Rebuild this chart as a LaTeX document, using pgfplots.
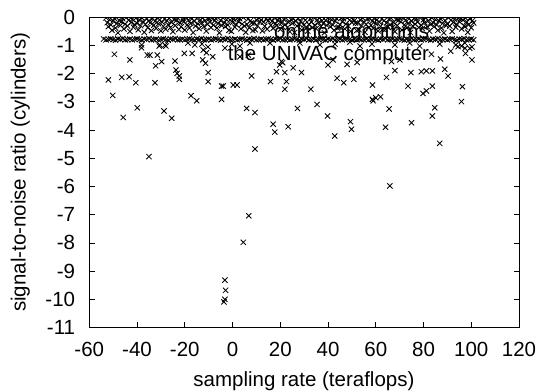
\documentclass[border=0pt]{standalone}
\usepackage{pgfplots}
\pgfplotsset{compat=1.18}
\usepackage{fontspec}
\setmainfont{Liberation Sans}
\begin{document}
\begin{tikzpicture}[font=\fontsize{20.5bp}{24bp}\selectfont]
\begin{axis}[
  at={(0,0)}, anchor=south west,
  scale only axis, width=429.7bp, height=310.2bp,
  xmin=-60, xmax=120, ymin=-11, ymax=0,
  xtick={-60,-40,...,120},
  xticklabels={-60,-40,-20,0,20,40,60,80,100,120},
  ytick={-11,-10,...,0},
  yticklabels={-11,-10,-9,-8,-7,-6,-5,-4,-3,-2,-1,0},
  tick align=inside, major tick length=5.5bp,
  xticklabel style={anchor=base, inner sep=0pt, yshift=-29.2bp},
  yticklabel style={anchor=east, inner sep=0pt, xshift=-14bp},
  axis line style={line width=0.8bp},
  every tick/.style={line width=0.8bp, black},
  clip marker paths=true,
  legend style={draw=none, fill=none, inner sep=0pt, outer sep=0pt,
    at={(rel axis cs:0.935,1)}, anchor=north east, yshift=-6.7bp,
    row sep=2bp, column sep=10bp,
    nodes={inner sep=0pt, text height=15bp, text depth=4.5bp}},
  legend cell align=right, legend plot pos=right,
  legend image code/.code={\path[draw=none,fill=none] (0bp,0bp) rectangle (52bp,2bp); \draw plot coordinates {(26bp,7bp)};},
]
\addplot[black, only marks, mark=x, mark size=3.7bp, mark options={solid, line width=0.85bp}] coordinates {
(-53,-0.02)(-52.5,-0.19)(-52,-0.33)(-51.5,-0.08)(-51,-0.27)(-50.5,-0.46)(-50,-0.13)(-49.5,-0.04)(-49,-0.38)(-48.5,-0.22)(-48,-0.55)(-47.5,-0.11)(-47,-0.29)
(-46.5,-0.15)(-46,-0.05)(-45.5,-0.41)(-45,-0.24)(-44.5,-0.01)(-44,-0.31)(-43.5,-0.10)(-43,-0.50)(-42.5,-0.18)(-42,-0.07)(-41.5,-0.35)(-41,-0.26)(-40.5,-0.03)
(-40,-0.21)(-39.5,-0.44)(-39,-0.09)(-38.5,-0.30)(-38,-0.02)(-37.5,-0.16)(-37,-0.53)(-36.5,-0.25)(-36,-0.06)(-35.5,-0.37)(-35,-0.12)(-34.5,-0.20)(-34,-0.47)
(-33.5,-0.04)(-33,-0.28)(-32.5,-0.14)(-32,-0.39)(-31.5,-0.01)(-31,-0.23)(-30.5,-0.09)(-30,-0.48)(-29.5,-0.17)(-29,-0.32)(-28.5,-0.06)(-28,-0.42)(-27.5,-0.12)
(-27,-0.26)(-26.5,-0.03)(-26,-0.36)(-25.5,-0.18)(-25,-0.51)(-24.5,-0.08)(-24,-0.29)(-23.5,-0.11)(-23,-0.02)(-22.5,-0.43)(-22,-0.20)(-21.5,-0.34)(-21,-0.07)
(-20.5,-0.16)(-20,-0.45)(-19.5,-0.01)(-19,-0.27)(-18.5,-0.10)(-18,-0.38)(-17.5,-0.22)(-17,-0.05)(-16.5,-0.54)(-16,-0.14)(-15.5,-0.31)(-15,-0.03)(-14.5,-0.24)
(-14,-0.40)(-13.5,-0.09)(-13,-0.19)(-12.5,-0.02)(-12,-0.33)(-11.5,-0.12)(-11,-0.49)(-10.5,-0.25)(-10,-0.06)(-9.5,-0.17)(-9,-0.36)(-8.5,-0.01)(-8,-0.28)
(-7.5,-0.13)(-7,-0.04)(-6.5,-0.38)(-6,-0.22)(-5.5,-0.55)(-5,-0.11)(-4.5,-0.29)(-4,-0.02)(-3.5,-0.19)(-3,-0.33)(-2.5,-0.08)(-2,-0.27)(-1.5,-0.46)
(-1,-0.10)(-0.5,-0.50)(0,-0.18)(0.5,-0.07)(1,-0.35)(1.5,-0.26)(2,-0.03)(2.5,-0.15)(3,-0.05)(3.5,-0.41)(4,-0.24)(4.5,-0.01)(5,-0.31)
(5.5,-0.53)(6,-0.25)(6.5,-0.06)(7,-0.37)(7.5,-0.12)(8,-0.20)(8.5,-0.47)(9,-0.21)(9.5,-0.44)(10,-0.09)(10.5,-0.30)(11,-0.02)(11.5,-0.16)
(12,-0.09)(12.5,-0.48)(13,-0.17)(13.5,-0.32)(14,-0.06)(14.5,-0.42)(15,-0.12)(15.5,-0.04)(16,-0.28)(16.5,-0.14)(17,-0.39)(17.5,-0.01)(18,-0.23)
(18.5,-0.29)(19,-0.11)(19.5,-0.02)(20,-0.43)(20.5,-0.20)(21,-0.34)(21.5,-0.07)(22,-0.26)(22.5,-0.03)(23,-0.36)(23.5,-0.18)(24,-0.51)(24.5,-0.08)
(25,-0.22)(25.5,-0.05)(26,-0.54)(26.5,-0.14)(27,-0.31)(27.5,-0.03)(28,-0.24)(28.5,-0.16)(29,-0.45)(29.5,-0.01)(30,-0.27)(30.5,-0.10)(31,-0.38)
(31.5,-0.49)(32,-0.25)(32.5,-0.06)(33,-0.17)(33.5,-0.36)(34,-0.01)(34.5,-0.28)(35,-0.40)(35.5,-0.09)(36,-0.19)(36.5,-0.02)(37,-0.33)(37.5,-0.12)
(38,-0.22)(38.5,-0.55)(39,-0.11)(39.5,-0.29)(40,-0.02)(40.5,-0.19)(41,-0.33)(41.5,-0.08)(42,-0.27)(42.5,-0.46)(43,-0.13)(43.5,-0.04)(44,-0.38)
(44.5,-0.35)(45,-0.26)(45.5,-0.03)(46,-0.15)(46.5,-0.05)(47,-0.41)(47.5,-0.24)(48,-0.01)(48.5,-0.31)(49,-0.10)(49.5,-0.50)(50,-0.18)(50.5,-0.07)
(51,-0.12)(51.5,-0.20)(52,-0.47)(52.5,-0.21)(53,-0.44)(53.5,-0.09)(54,-0.30)(54.5,-0.02)(55,-0.16)(55.5,-0.53)(56,-0.25)(56.5,-0.06)(57,-0.37)
(57.5,-0.04)(58,-0.28)(58.5,-0.14)(59,-0.39)(59.5,-0.01)(60,-0.23)(60.5,-0.09)(61,-0.48)(61.5,-0.17)(62,-0.32)(62.5,-0.06)(63,-0.42)(63.5,-0.12)
(64,-0.43)(64.5,-0.20)(65,-0.34)(65.5,-0.07)(66,-0.26)(66.5,-0.03)(67,-0.36)(67.5,-0.18)(68,-0.51)(68.5,-0.08)(69,-0.29)(69.5,-0.11)(70,-0.02)
(70.5,-0.16)(71,-0.45)(71.5,-0.01)(72,-0.27)(72.5,-0.10)(73,-0.38)(73.5,-0.22)(74,-0.05)(74.5,-0.54)(75,-0.14)(75.5,-0.31)(76,-0.03)(76.5,-0.24)
(77,-0.06)(77.5,-0.17)(78,-0.36)(78.5,-0.01)(79,-0.28)(79.5,-0.40)(80,-0.09)(80.5,-0.19)(81,-0.02)(81.5,-0.33)(82,-0.12)(82.5,-0.49)(83,-0.25)
(83.5,-0.02)(84,-0.19)(84.5,-0.33)(85,-0.08)(85.5,-0.27)(86,-0.46)(86.5,-0.13)(87,-0.04)(87.5,-0.38)(88,-0.22)(88.5,-0.55)(89,-0.11)(89.5,-0.29)
(90,-0.24)(90.5,-0.01)(91,-0.31)(91.5,-0.10)(92,-0.50)(92.5,-0.18)(93,-0.07)(93.5,-0.35)(94,-0.26)(94.5,-0.03)(95,-0.15)(95.5,-0.05)(96,-0.41)
(96.5,-0.09)(97,-0.30)(97.5,-0.02)(98,-0.16)(98.5,-0.53)(99,-0.25)(99.5,-0.06)(100,-0.37)(100.5,-0.12)(101,-0.20)
(-38.1,-0.98)(-30.4,-0.98)(-28.3,-0.98)(-18.7,-0.91)(-15.8,-0.98)(-12.8,-0.95)(-10.3,-1.05)(-3.2,-1.09)(-0.3,-0.95)(3.1,-1.02)(7.3,-0.91)(15.7,-0.91)(28.2,-0.91)
(36.6,-0.98)(42.9,-0.95)(49.2,-0.88)(53.4,-1.02)(58.4,-0.95)(68.0,-0.98)(74.2,-0.91)(78.4,-1.02)(86.8,-0.95)(93.5,-0.98)(97.3,-0.91)(100.3,-1.05)
(-49.5,-1.31)(-43.0,-1.51)(-38.1,-1.08)(-35.7,-1.34)(-34.6,-1.34)(-31.5,-1.34)(-30.7,-1.02)(-27.9,-1.02)(-32.2,-1.72)(-29.7,-1.57)
(-24.1,-1.55)(-23.7,-1.87)(-23.2,-1.99)(-22.3,-2.08)(-22.3,-2.20)(-20.2,-1.28)(-16.9,-1.28)(-12.3,-1.16)(-10.9,-1.26)(-12.5,-1.51)
(-11.3,-1.63)(-10.2,-1.96)(-10.2,-2.28)(-8.3,-1.40)(-4.6,-2.44)(-3.9,-2.44)(-4.6,-2.91)(0.3,-2.40)(1.9,-2.40)(3.1,-1.40)
(6.6,-1.34)(8.0,-2.08)(5.9,-3.23)(9.4,-3.38)(-52.0,-2.22)(-50.2,-2.77)(-46.4,-2.13)(-43.3,-2.11)(-40.5,-2.32)(-39.9,-3.21)
(-32.5,-2.32)(-17.4,-2.78)(-15.0,-2.96)(-28.7,-3.32)(-25.5,-3.58)(-45.8,-3.55)(15.9,-2.28)(21.0,-1.61)(19.8,-1.69)(18.4,-1.93)
(21.9,-1.96)(22.6,-2.28)(21.9,-2.55)(25.4,-1.79)(27.2,-3.23)(-35.0,-4.94)(9.4,-4.67)(17.0,-3.79)(17.7,-4.07)(23.3,-3.88)
};
\addlegendentry{online algorithms}
\addplot[black, only marks, mark=x, mark size=3.7bp, mark options={solid, line width=0.85bp}] coordinates {
(-54,-0.77)(-53,-0.80)(-52,-0.78)(-51,-0.76)(-50,-0.79)(-49,-0.81)(-48,-0.77)(-47,-0.78)(-46,-0.75)(-45,-0.80)(-44,-0.79)
(-43,-0.77)(-42,-0.80)(-41,-0.78)(-40,-0.76)(-39,-0.79)(-38,-0.81)(-37,-0.77)(-36,-0.78)(-35,-0.75)(-34,-0.80)(-33,-0.79)
(-32,-0.77)(-31,-0.80)(-30,-0.78)(-29,-0.76)(-28,-0.79)(-27,-0.81)(-26,-0.77)(-25,-0.78)(-24,-0.75)(-23,-0.80)(-22,-0.79)
(-21,-0.77)(-20,-0.80)(-19,-0.78)(-18,-0.76)(-17,-0.79)(-16,-0.81)(-15,-0.77)(-14,-0.78)(-13,-0.75)(-12,-0.80)(-11,-0.79)
(-10,-0.77)(-9,-0.80)(-8,-0.78)(-7,-0.76)(-6,-0.79)(-5,-0.81)(-4,-0.77)(-3,-0.78)(-2,-0.75)(-1,-0.80)(0,-0.79)
(1,-0.77)(2,-0.80)(3,-0.78)(4,-0.76)(5,-0.79)(6,-0.81)(7,-0.77)(8,-0.78)(9,-0.75)(10,-0.80)(11,-0.79)
(12,-0.77)(13,-0.80)(14,-0.78)(15,-0.76)(16,-0.79)(17,-0.81)(18,-0.77)(19,-0.78)(20,-0.75)(21,-0.80)(22,-0.79)
(23,-0.77)(24,-0.80)(25,-0.78)(26,-0.76)(27,-0.79)(28,-0.81)(29,-0.77)(30,-0.78)(31,-0.75)(32,-0.80)(33,-0.79)
(34,-0.77)(35,-0.80)(36,-0.78)(37,-0.76)(38,-0.79)(39,-0.81)(40,-0.77)(41,-0.78)(42,-0.75)(43,-0.80)(44,-0.79)
(45,-0.77)(46,-0.80)(47,-0.78)(48,-0.76)(49,-0.79)(50,-0.81)(51,-0.77)(52,-0.78)(53,-0.75)(54,-0.80)(55,-0.79)
(56,-0.77)(57,-0.80)(58,-0.78)(59,-0.76)(60,-0.79)(61,-0.81)(62,-0.77)(63,-0.78)(64,-0.75)(65,-0.80)(66,-0.79)
(67,-0.77)(68,-0.80)(69,-0.78)(70,-0.76)(71,-0.79)(72,-0.81)(73,-0.77)(74,-0.78)(75,-0.75)(76,-0.80)(77,-0.79)
(78,-0.77)(79,-0.80)(80,-0.78)(81,-0.76)(82,-0.79)(83,-0.81)(84,-0.77)(85,-0.78)(86,-0.75)(87,-0.80)(88,-0.79)
(89,-0.77)(90,-0.80)(91,-0.78)(92,-0.76)(93,-0.79)(94,-0.81)(95,-0.77)(96,-0.78)(97,-0.75)(98,-0.80)(99,-0.79)
(100,-0.77)(101,-0.80)
(6.8,-7.04)(4.5,-7.98)(-3.2,-9.32)(-2.9,-9.68)(-3.2,-10.0)(-3.6,-10.09)(35.4,-3.09)(39.8,-3.50)(42.8,-4.21)(49.4,-3.70)
(49.8,-3.97)(58.9,-2.96)(65.6,-3.25)(64.1,-3.90)(75.0,-3.74)(84.7,-3.21)(83.7,-3.50)(86.8,-4.47)(95.9,-2.99)(65.9,-5.98)
(20.5,-1.57)(28.9,-1.96)(32.8,-2.55)(40.0,-1.69)(42.1,-1.51)(43.8,-2.16)(46.6,-2.32)(50.8,-2.20)(48.0,-1.67)(52.2,-1.60)
(58.6,-2.40)(58.6,-2.91)(60.0,-2.85)(62.0,-2.82)(64.5,-2.13)(68.0,-1.89)(66.6,-1.57)(70.1,-1.51)(73.5,-2.44)(74.7,-1.96)
(79.1,-1.93)(81.2,-1.90)(83.7,-1.90)(79.8,-2.70)(81.2,-2.61)(83.7,-2.44)(83.3,-1.31)(87.1,-1.48)(88.9,-1.84)(90.3,-2.08)
(91.4,-1.20)(94.5,-1.04)(95.9,-1.02)(96.3,-2.46)(97.6,-1.28)(99.4,-1.10)(100.3,-1.51)
};
\addlegendentry{the UNIVAC computer}
\end{axis}
\node[rotate=90, anchor=center] at (-69bp,155.1bp) {signal-to-noise ratio (cylinders)};
\node[anchor=base] at (214.6bp,-59.2bp) {sampling rate (teraflops)};
\pgfresetboundingbox
\path (-89.3bp,-64.5bp) rectangle (450.7bp,327.5bp);
\end{tikzpicture}
\end{document}
